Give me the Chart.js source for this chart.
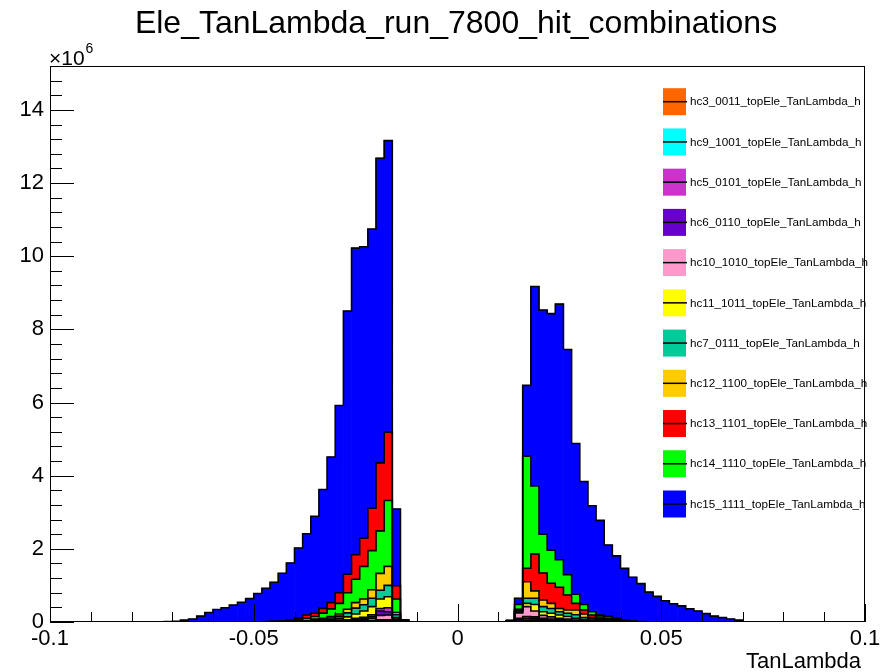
<!DOCTYPE html>
<html>
<head>
<meta charset="utf-8">
<script src="https://cdn.jsdelivr.net/npm/chart.js@4.4.1/dist/chart.umd.min.js"></script>
<style>
html,body{margin:0;padding:0;background:#fff;}
canvas{display:block;}
</style>
</head>
<body>
<canvas id="c" width="887" height="672"></canvas>
<script>
// ---------------- DATA ----------------
const chartTitle = "Ele_TanLambda_run_7800_hit_combinations";
const xAxisTitle = "TanLambda";
const yExponent = "6";
const binWidth = 0.002;

// lower bin edges of the filled bins (negative side and positive side)
const leftEdges = [-0.072,-0.070,-0.068,-0.066,-0.064,-0.062,-0.060,-0.058,-0.056,-0.054,
  -0.052,-0.050,-0.048,-0.046,-0.044,-0.042,-0.040,-0.038,-0.036,-0.034,
  -0.032,-0.030,-0.028,-0.026,-0.024,-0.022,-0.020,-0.018,-0.016,-0.014];
const rightEdges = [0.012,0.014,0.016,0.018,0.020,0.022,0.024,0.026,0.028,0.030,
  0.032,0.034,0.036,0.038,0.040,0.042,0.044,0.046,0.048,0.050,
  0.052,0.054,0.056,0.058,0.060,0.062,0.064,0.066,0.068];

// x ticks (labels) and y ticks (x 10^6)
const xTickLabels = [-0.1,-0.05,0,0.05,0.1];
const yTickLabels = [0,2,4,6,8,10,12,14];

// series names (legend order)
const seriesKeys = ["hc3","hc9","hc5","hc6","hc10","hc11","hc7","hc12","hc13","hc14","hc15"];
const seriesNames = ["hc3_0011_topEle_TanLambda_h","hc9_1001_topEle_TanLambda_h","hc5_0101_topEle_TanLambda_h",
  "hc6_0110_topEle_TanLambda_h","hc10_1010_topEle_TanLambda_h","hc11_1011_topEle_TanLambda_h",
  "hc7_0111_topEle_TanLambda_h","hc12_1100_topEle_TanLambda_h","hc13_1101_topEle_TanLambda_h",
  "hc14_1110_topEle_TanLambda_h","hc15_1111_topEle_TanLambda_h"];

// entries per bin, in units of 10^6 — negative side
const hc3_L  = [0,0,0,0,0,0,0,0,0,0.003,0.003,0.003,0.003,0.003,0.003,0.003,0.004,0.005,0.005,0.005,0.01,0.01,0.01,0.02,0.02,0.02,0.03,0.03,0.01,0.01];
const hc9_L  = [0,0,0,0,0,0,0,0,0,0,0,0,0,0,0,0,0.002,0.003,0.005,0.005,0.005,0.01,0.01,0.01,0.01,0.02,0.03,0.03,0.01,0.005];
const hc5_L  = [0,0,0,0,0,0,0,0,0,0,0,0,0,0,0,0,0,0,0.003,0.005,0.005,0.01,0.01,0.02,0.03,0.05,0.07,0.11,0.02,0];
const hc6_L  = [0,0,0,0,0,0,0,0,0,0,0,0,0,0,0,0,0,0.002,0.003,0.003,0.005,0.01,0.01,0.02,0.03,0.05,0.12,0.09,0.02,0];
const hc10_L = [0,0,0,0,0,0,0,0,0,0,0,0,0,0,0,0,0.002,0.003,0.005,0.005,0.005,0.01,0.02,0.03,0.04,0.06,0.12,0.13,0.02,0.005];
const hc11_L = [0,0,0,0,0,0,0,0,0,0,0,0,0,0,0,0.005,0.01,0.01,0.02,0.03,0.04,0.05,0.08,0.12,0.17,0.22,0.26,0.30,0.04,0];
const hc7_L  = [0,0,0,0,0,0,0,0,0,0,0,0,0,0,0,0.005,0.01,0.01,0.02,0.03,0.04,0.06,0.11,0.16,0.17,0.23,0.24,0.31,0.08,0.01];
const hc12_L = [0,0,0,0,0,0,0,0,0,0,0,0,0,0,0,0,0.005,0.01,0.02,0.02,0.04,0.06,0.10,0.15,0.16,0.23,0.46,0.52,0.06,0];
const hc13_L = [0,0,0,0,0,0,0,0,0,0.002,0.002,0.002,0.005,0.005,0.01,0.02,0.04,0.09,0.09,0.13,0.17,0.29,0.51,0.67,0.77,1.16,1.86,1.87,0.36,0.01];
const hc14_L = [0,0,0,0,0,0,0,0,0,0.003,0.003,0.003,0.005,0.01,0.01,0.02,0.04,0.06,0.07,0.14,0.21,0.29,0.45,0.64,0.89,1.07,1.16,1.80,0.37,0.01];
const hc15_L = [0.01,0.02,0.05,0.08,0.16,0.26,0.34,0.39,0.46,0.53,0.63,0.77,0.91,1.07,1.31,1.56,1.91,2.22,2.65,3.25,3.98,5.12,7.19,8.38,7.97,7.63,8.33,7.97,2.10,0.01];

// entries per bin, in units of 10^6 — positive side
const hc3_R  = [0.01,0.01,0.02,0.03,0.02,0.015,0.01,0.01,0.01,0.005,0.005,0.005,0.003,0.003,0.002,0,0,0,0,0,0,0,0,0,0,0,0,0,0];
const hc9_R  = [0,0.01,0.02,0.02,0.02,0.015,0.01,0.01,0.005,0.005,0.005,0.002,0,0,0,0,0,0,0,0,0,0,0,0,0,0,0,0,0];
const hc5_R  = [0,0.03,0.05,0.04,0.03,0.03,0.02,0.02,0.01,0.005,0.005,0.005,0,0,0,0,0,0,0,0,0,0,0,0,0,0,0,0,0];
const hc6_R  = [0.01,0.05,0.06,0.05,0.03,0.02,0.02,0.01,0.005,0.005,0.005,0,0,0,0,0,0,0,0,0,0,0,0,0,0,0,0,0,0];
const hc10_R = [0.01,0.15,0.27,0.16,0.08,0.06,0.04,0.03,0.02,0.01,0.005,0.005,0,0,0,0,0,0,0,0,0,0,0,0,0,0,0,0,0];
const hc11_R = [0,0.02,0.09,0.18,0.10,0.10,0.09,0.07,0.05,0.03,0.02,0.01,0.01,0.005,0,0,0,0,0,0,0,0,0,0,0,0,0,0,0];
const hc7_R  = [0,0.03,0.14,0.17,0.14,0.13,0.09,0.09,0.10,0.06,0.04,0.03,0.02,0.01,0.005,0,0,0,0,0,0,0,0,0,0,0,0,0,0];
const hc12_R = [0,0.02,0.45,0.20,0.18,0.14,0.09,0.09,0.13,0.10,0.035,0.03,0.03,0.02,0.01,0.005,0,0,0,0,0,0,0,0,0,0,0,0,0];
const hc13_R = [0,0.03,0.37,1.01,0.74,0.55,0.58,0.41,0.18,0.11,0.07,0.05,0.04,0.03,0.02,0.01,0.005,0.003,0,0,0,0,0,0,0,0,0,0,0];
const hc14_R = [0.01,0.13,3.06,1.86,1.06,0.90,0.75,0.55,0.25,0.15,0.09,0.05,0.05,0.03,0.02,0.01,0.005,0.003,0,0,0,0,0,0,0,0,0,0,0];
const hc15_R = [0.005,0.17,1.94,5.45,6.13,6.47,6.99,6.16,4.12,3.36,2.90,2.59,1.95,1.71,1.41,1.20,1.04,0.81,0.70,0.58,0.50,0.44,0.36,0.30,0.23,0.16,0.12,0.08,0.05];

// stacking order (bottom -> top) seen on each side of the plot
const leftStackOrder  = ["hc3","hc9","hc10","hc6","hc5","hc11","hc7","hc12","hc14","hc13","hc15"];
const rightStackOrder = ["hc3","hc9","hc6","hc5","hc10","hc11","hc7","hc12","hc13","hc14","hc15"];

// ---------------- STYLE ----------------
const seriesColors = {hc3:"#ff6600",hc9:"#00ffff",hc5:"#cc33cc",hc6:"#6600cc",hc10:"#ff99cc",
  hc11:"#ffff00",hc7:"#00cc99",hc12:"#ffcc00",hc13:"#ff0000",hc14:"#00ff00",hc15:"#0000ff"};
const FONT = '"Liberation Sans", Arial, Helvetica, sans-serif';

// ---------------- BUILD ----------------
const leftValues  = {hc3:hc3_L,hc9:hc9_L,hc5:hc5_L,hc6:hc6_L,hc10:hc10_L,hc11:hc11_L,hc7:hc7_L,hc12:hc12_L,hc13:hc13_L,hc14:hc14_L,hc15:hc15_L};
const rightValues = {hc3:hc3_R,hc9:hc9_R,hc5:hc5_R,hc6:hc6_R,hc10:hc10_R,hc11:hc11_R,hc7:hc7_R,hc12:hc12_R,hc13:hc13_R,hc14:hc14_R,hc15:hc15_R};

function stackBlock(edges, values, order) {
  const out = {};
  order.forEach(k => out[k] = []);
  edges.forEach((e, i) => {
    let base = 0;
    order.forEach(k => {
      const top = base + values[k][i];
      out[k].push({lo: base, hi: top, edge: e});
      base = top;
    });
  });
  return out;
}
const leftStack = stackBlock(leftEdges, leftValues, leftStackOrder);
const rightStack = stackBlock(rightEdges, rightValues, rightStackOrder);

const datasets = [];
// outlines (drawn on top)
seriesKeys.forEach(k => {
  const pts = [];
  [leftStack[k], rightStack[k]].forEach(block => {
    pts.push({x: block[0].edge, y: 0});
    block.forEach(b => pts.push({x: b.edge, y: b.hi}));
    pts.push({x: block[block.length-1].edge + binWidth, y: 0});
  });
  datasets.push({
    type: 'line', data: pts, stepped: 'before', borderColor: '#000', borderWidth: 1.6,
    pointRadius: 0, fill: false, order: 0, tension: 0
  });
});
// filled bins
seriesKeys.forEach(k => {
  const data = [];
  [leftStack[k], rightStack[k]].forEach(block => {
    block.forEach(b => data.push({x: b.edge + binWidth/2, y: [b.lo, b.hi]}));
  });
  datasets.push({
    type: 'bar', data, backgroundColor: seriesColors[k], borderWidth: 0,
    barPercentage: 1, categoryPercentage: 1, grouped: false, order: 1
  });
});

const rootDecor = {
  id: 'rootDecor',
  afterDraw(chart) {
    const {ctx, chartArea: ca, scales: {x, y}} = chart;
    ctx.save();
    ctx.strokeStyle = '#000';
    ctx.lineWidth = 1;
    // frame
    ctx.strokeRect(ca.left + 0.5, ca.top + 0.5, ca.right - ca.left - 1, ca.bottom - ca.top - 1);
    // y ticks
    ctx.beginPath();
    for (let k = 0; k * 0.4 <= y.max + 1e-9; k++) {
      const py = Math.round(y.getPixelForValue(k * 0.4)) + 0.5;
      const len = (k % 5 === 0) ? 24 : 12;
      ctx.moveTo(ca.left, py); ctx.lineTo(ca.left + len, py);
    }
    // x ticks
    for (let k = -10; k <= 10; k++) {
      const px = Math.round(x.getPixelForValue(k * 0.01)) + 0.5;
      const len = (k % 5 === 0) ? 18 : 10;
      ctx.moveTo(px, ca.bottom); ctx.lineTo(px, ca.bottom - len);
    }
    ctx.stroke();

    ctx.fillStyle = '#000';
    // title
    ctx.font = '32px ' + FONT;
    ctx.textAlign = 'center';
    ctx.textBaseline = 'alphabetic';
    ctx.fillText(chartTitle, 456, 33);
    // x axis title
    ctx.font = '22px ' + FONT;
    ctx.textAlign = 'right';
    ctx.fillText(xAxisTitle, 861, 668);
    // exponent
    ctx.textAlign = 'left';
    ctx.font = '21px ' + FONT;
    ctx.fillText('\u00d710', 49, 65);
    const w = ctx.measureText('\u00d710').width;
    ctx.font = '14px ' + FONT;
    ctx.fillText(yExponent, 49 + w + 1, 53);

    // legend
    const lx = 663, ly0 = 101.7, dy = 40.23;
    seriesKeys.forEach((k, i) => {
      const cy = ly0 + i * dy;
      ctx.fillStyle = seriesColors[k];
      ctx.fillRect(lx, cy - 13.5, 23, 27);
      ctx.strokeStyle = '#000';
      ctx.lineWidth = 1.5;
      ctx.beginPath(); ctx.moveTo(lx, cy); ctx.lineTo(lx + 24, cy); ctx.stroke();
      ctx.fillStyle = '#000';
      ctx.font = '11.7px ' + FONT;
      ctx.textAlign = 'left';
      ctx.textBaseline = 'middle';
      ctx.fillText(seriesNames[i], lx + 27, cy + 0.5);
    });
    ctx.restore();
  }
};

function fmtX(v) {
  if (Math.abs(v) < 1e-9) return '0';
  return String(Math.round(v * 1000) / 1000);
}

new Chart(document.getElementById('c'), {
  type: 'bar',
  data: {datasets},
  options: {
    responsive: false,
    animation: false,
    devicePixelRatio: 1,
    layout: {padding: {left: 0, right: 22, top: 66, bottom: 0}},
    plugins: {legend: {display: false}, tooltip: {enabled: false}, title: {display: false}},
    scales: {
      x: {
        type: 'linear', min: xTickLabels[0], max: xTickLabels[xTickLabels.length-1], offset: false,
        grid: {display: false, drawTicks: false}, border: {display: false},
        afterBuildTicks: s => { s.ticks = xTickLabels.map(v => ({value: v})); },
        ticks: {font: {family: FONT, size: 22}, color: '#000', padding: 4, maxRotation: 0, autoSkip: false, callback: v => fmtX(v)},
        afterFit: s => { s.height = 50; }
      },
      y: {
        type: 'linear', min: 0, max: 15.2,
        grid: {display: false, drawTicks: false}, border: {display: false},
        afterBuildTicks: s => { s.ticks = yTickLabels.map(v => ({value: v})); },
        ticks: {font: {family: FONT, size: 22}, color: '#000', padding: 6, callback: v => String(v)},
        afterFit: s => { s.width = 50; }
      }
    }
  },
  plugins: [rootDecor]
});
</script>
</body>
</html>
